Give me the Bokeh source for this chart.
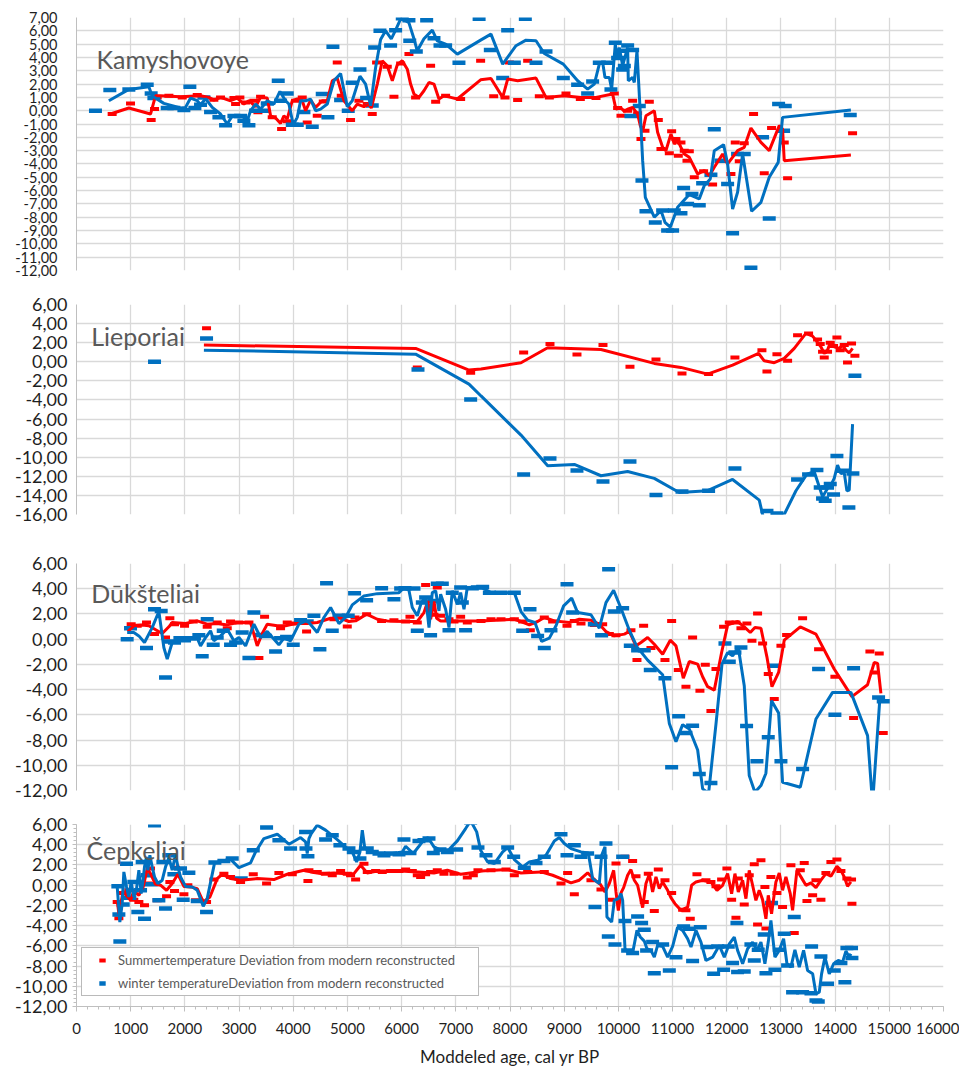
from bokeh.plotting import figure
from bokeh.models import Range1d, FixedTicker, CustomJSTickFormatter, Label, Legend, LegendItem
from bokeh.layouts import column
from bokeh.embed import file_html
from bokeh.resources import INLINE

# ---------------- Kamyshovoye ----------------
k_sum_age = [658, 997, 1378, 1440, 1489, 1705, 1951, 2228, 2535, 2658, 2905, 2936, 3015, 3120, 3274, 3348, 3397,
             3612, 3785, 3889, 4043, 4166, 4258, 4443, 4554, 4812, 4886, 5058, 5212, 5366, 5458, 5538, 5735, 5858,
             5982, 6135, 6258, 6535, 6628, 6812, 7089, 7458, 7699, 7908, 7988, 8141, 8326, 8541, 8726, 9033, 9298,
             9587, 9925, 9986, 10048, 10171, 10263, 10355, 10417, 10491, 10571, 10737, 10786, 10940, 10983, 11063,
             11106, 11155, 11216, 11266, 11309, 11401, 11573, 11739, 12077, 12157, 12231, 12323, 12495, 12692,
             12827, 13061, 13123, 14322]
k_sum_val = [-0.25, 0.55, -0.7, 0.12, 1.0, 1.12, 1.0, 1.18, 0.82, 1.0, 0.95, 0.5, 1.0, 0.62, 0.75, -0.12, 1.05,
             -0.5, -1.38, -0.8, 0.75, 1.0, -0.88, -0.38, 0.7, 3.62, 1.12, -0.7, 0.75, 0.5, -0.25, 3.62, 3.3, 1.05,
             3.55, 4.25, 1.0, 3.38, 0.68, 1.12, 0.88, 3.75, 1.08, 1.0, 3.62, 0.8, 3.75, 1.08, 1.0, 1.3, 0.88,
             0.95, 1.3, 0.2, -0.38, 0.0, 0.75, -0.2, -2.12, -1.5, 0.68, -0.7, -2.88, -3.2, -1.55, -2.12,
             -3.38, -2.38, -3.0, -3.75, -3.05, -5.0, -4.55, -5.55, -4.75, -2.38, -3.8, -2.45, -0.25, -4.7,
             -1.3, -2.38, -5.08, -1.7]
k_win_age = [350, 615, 966, 1305, 1378, 1428, 1674, 1797, 1982, 2092, 2185, 2289, 2351, 2474, 2628, 2751, 2905,
             3028, 3089, 3182, 3305, 3458, 3520, 3723, 3766, 3889, 3982, 4074, 4197, 4351, 4535, 4640, 4732, 4874,
             5015, 5089, 5231, 5354, 5458, 5502, 5600, 5797, 5889, 6012, 6135, 6150, 6271, 6462, 6597, 6708, 6812,
             7058, 7430, 7637, 7865, 7957, 8080, 8283, 8480, 8664, 8984, 9248, 9433, 9525, 9648, 9802, 9863, 9943,
             9986, 10048, 10079, 10110, 10171, 10232, 10263, 10386, 10435, 10509, 10681, 10817, 10909, 11001,
             11032, 11155, 11204, 11278, 11358, 11493, 11555, 11708, 11770, 11893, 12016, 12108, 12200, 12323,
             12446, 12661, 12784, 12957, 13049, 13080, 14279]
k_win_val = [0.0, 1.55, 1.6, 1.95, 1.3, 0.95, 0.2, 0.2, 0.05, 1.8, 0.2, 0.45, 1.0, -0.1, -0.5, -1.1, -0.4,
             -0.4, -0.75, -1.1, 0.0, 0.0, 0.55, 2.25, 0.75, 1.3, -1.05, -1.05, -0.1, -1.2, 1.25, -0.5, 4.8, 0.8,
             0.0, 2.1, 3.1, 0.95, 0.4, 4.75, 6.0, 4.9, 6.05, 6.95, 6.8, 5.25, 4.45, 6.8, 5.45, 4.9, 4.9,
             3.6, 6.9, 4.55, 2.45, 6.05, 3.6, 6.9, 3.6, 4.45, 2.45, 1.95, 1.3, 2.2, 3.6, 3.6, 1.6, 5.1,
             3.95, 4.5, 3.1, 3.35, 4.9, -0.4, 4.55, 0.35, -5.25, -7.55, -8.4, -7.5, -9.0, -9.0,
             -7.5, -7.7, -5.8, -7.0, -6.25, -7.1, -5.45, -4.8, -1.4, -3.75, -5.5, -9.2, -3.25, -3.25,
             -11.8, -2.0, -8.1, 0.5, -1.5, 0.35, -0.33]
k_sum_line_age = [627, 966, 1366, 1458, 1551, 1920, 2289, 2443, 2535, 2658, 2843, 2966, 3089, 3182, 3305, 3397,
                  3520, 3582, 3674, 3766, 3828, 3889, 3982, 4074, 4166, 4228, 4320, 4412, 4535, 4628, 4720, 4812,
                  4936, 5089, 5181, 5304, 5397, 5440, 5551, 5643, 5735, 5828, 5920, 6012, 6105, 6166, 6228, 6320,
                  6412, 6505, 6597, 6689, 6781, 6905, 7028, 7458, 7649, 7865, 7957, 8141, 8480, 8664, 8996, 9310,
                  9587, 9894, 9955, 10048, 10110, 10171, 10263, 10355, 10405, 10448, 10509, 10663, 10724, 10817,
                  10878, 10970, 11032, 11093, 11155, 11216, 11309, 11463, 11586, 11678, 11770, 11924, 12016,
                  12200, 12323, 12446, 12631, 12784, 12969, 13030, 13061, 14291]
k_sum_line_val = [-0.25, 0.2, -0.25, 1.12, 1.12, 1.05, 1.12, 1.0, 0.8, 1.0, 0.75, 0.95, 0.5, 0.75, 0.3, 1.0,
                  0.95, -0.38, -0.55, -0.95, -0.38, -0.62, 0.75, 0.88, 0.75, 0.0, 0.8, 0.25, 0.75, 0.75, 2.25, 2.45,
                  0.75, 0.0, 0.5, 0.3, 0.5, 0.2, 2.0, 3.75, 3.38, 2.25, 3.45, 3.75, 3.12, 2.0, 1.25, 1.0,
                  1.5, 2.12, 2.0, 0.88, 1.12, 1.0, 0.88, 2.32, 2.42, 1.0, 2.38, 2.25, 2.45, 1.0, 1.12, 1.0,
                  1.0, 1.25, 0.12, 0.2, -0.05, 0.12, 0.25, -0.25, -1.12, -1.55, -0.38, 0.0, -1.62, -2.75,
                  -3.0, -1.75, -2.5, -2.2, -2.75, -3.25, -3.5, -4.75, -4.5, -4.88, -4.25, -3.25, -4.0,
                  -3.0, -2.75, -1.3, -2.38, -3.0, -1.12, -1.38, -3.75, -3.32]
k_win_line_age = [597, 966, 1335, 1397, 1612, 1920, 2012, 2105, 2228, 2289, 2382, 2505, 2658, 2782, 2874, 3058,
                  3151, 3212, 3305, 3397, 3520, 3643, 3754, 3858, 3920, 4000, 4074, 4135, 4228, 4320, 4412, 4505,
                  4628, 4751, 4874, 4997, 5089, 5231, 5335, 5428, 5520, 5612, 5705, 5809, 5889, 5982, 6074, 6135,
                  6228, 6289, 6412, 6566, 6658, 6812, 7028, 7458, 7649, 7865, 8111, 8295, 8480, 8633, 8984, 9248,
                  9433, 9556, 9648, 9710, 9753, 9833, 9876, 9943, 9986, 10017, 10079, 10171, 10183, 10263, 10294,
                  10343, 10405, 10448, 10497, 10663, 10786, 10860, 10958, 11093, 11309, 11493, 11586, 11696,
                  11770, 11942, 12016, 12108, 12200, 12293, 12459, 12631, 12784, 12950, 13030, 14291]
k_win_line_val = [0.75, 1.6, 1.8, 1.1, 0.55, 0.2, 0.25, 0.95, 0.75, 0.45, 0.9, 0.25, -0.25, -1.0, -0.4, -0.4,
                  -0.75, 0.0, 0.5, 0.12, 0.75, 0.5, 1.45, 0.75, 0.5, -1.05, -0.5, 0.75, 0.75, 0.87, 0.0, 0.12,
                  0.5, 2.25, 2.8, 0.3, 0.75, 2.6, 2.0, 0.37, 3.25, 5.35, 6.0, 5.4, 6.05, 6.9, 6.75, 6.6,
                  5.4, 4.5, 5.4, 6.05, 5.25, 5.0, 4.25, 5.3, 5.75, 3.5, 4.88, 5.3, 5.25, 4.3, 3.5, 2.25,
                  1.62, 2.0, 3.5, 3.62, 2.5, 2.5, 1.62, 5.0, 3.88, 4.75, 3.38, 4.75, 2.25, 2.5, 2.12,
                  4.5, -0.25, -3.75, -6.5, -8.0, -7.5, -8.38, -8.75, -7.25, -6.3, -6.62, -5.62, -5.12,
                  -3.0, -2.55, -4.0, -7.38, -6.12, -3.25, -7.55, -6.88, -5.0, -3.88, -0.5, 0.05]

# ---------------- Lieporiai ----------------
l_sum_age = [2400, 6289, 7274, 8252, 8738, 9236, 9716, 10214, 10694, 11174, 11665, 12151, 12649, 12742, 12926,
             13123, 13307, 13510, 13676, 13725, 13768, 13799, 13860, 13910, 13971, 14033, 14094, 14168, 14229,
             14303, 14365]
l_sum_val = [3.5, -0.6, -1.15, 0.98, 1.85, 0.77, 1.75, -0.52, 0.24, -1.22, -1.29, 0.45, 1.22, -1.01, 0.8,
             0.1, 2.79, 2.97, 2.34, 1.85, 1.05, 0.45, 1.05, 1.99, 1.64, 2.55, 1.22, 1.75, -0.07, 1.92, 0.63]
l_win_age = [1440, 2400, 6302, 7274, 8252, 8738, 9236, 9716, 10214, 10694, 11174, 11665, 12151, 12742, 12926,
             13307, 13510, 13664, 13725, 13768, 13817, 13860, 13910, 13971, 14033, 14137, 14254, 14328, 14365]
l_win_val = [0.0, 2.44, -0.8, -3.95, -11.8, -10.13, -11.38, -12.53, -10.44, -13.97, -13.58, -13.51, -11.17,
             -15.64, -15.89, -12.33, -11.8, -11.35, -13.16, -14.32, -14.56, -13.16, -12.81, -13.9, -9.88,
             -11.42, -15.26, -11.7, -1.47]
l_sum_line_age = [2351, 6258, 7243, 7465, 8203, 8695, 9679, 10663, 11155, 11647, 12108, 12588, 12692, 12877,
                  13061, 13246, 13461, 13584, 13645, 13737, 13799, 13860, 13910, 13983, 14075, 14137, 14199,
                  14260, 14322]
l_sum_line_val = [1.75, 1.4, -0.87, -0.75, -0.1, 1.47, 1.29, -0.17, -0.59, -1.29, -0.35, 0.87, 0.1, -0.1,
                  0.35, 1.4, 2.97, 2.69, 2.27, 1.57, 0.87, 1.22, 1.99, 1.57, 1.4, 1.75, 1.22, 0.94, 1.4]
l_win_line_age = [2351, 6258, 7243, 7465, 8203, 8695, 9187, 9679, 10171, 10663, 11124, 11647, 12108, 12600,
                  12692, 12877, 13061, 13277, 13480, 13615, 13707, 13768, 13860, 13922, 13983, 14045, 14106,
                  14168, 14217, 14260, 14322]
l_win_line_val = [1.22, 0.8, -2.34, -3.58, -7.68, -10.89, -10.75, -11.94, -11.49, -12.22, -13.69, -13.51,
                  -12.33, -14.49, -16.76, -15.89, -15.99, -13.51, -11.77, -11.52, -13.09, -14.14, -13.27,
                  -12.92, -12.22, -10.82, -11.7, -11.63, -13.51, -13.44, -6.53]

# ---------------- Dūkšteliai ----------------
d_sum_age = [1009, 1120, 1292, 1440, 1643, 1723, 1809, 1994, 2154, 2412, 2597, 2782, 2843, 2997, 3182, 3366,
             3471, 3766, 3889, 3982, 4246, 4751, 4997, 5139, 5354, 5631, 5858, 6074, 6154, 6289, 6443, 6535,
             6597, 6658, 6720, 6874, 6966, 7089, 7212, 7465, 7649, 7834, 8080, 8234, 8375, 8633, 8787, 9052,
             9187, 9310, 9556, 9710, 9833, 9955, 10232, 10343, 10466, 10601, 10860, 10983, 11106, 11247, 11370,
             11505, 11604, 11708, 11801, 11942, 12047, 12170, 12262, 12372, 12465, 12569, 12662, 12766, 12877,
             13000, 13105, 13400, 13695, 13996, 14341, 14642, 14722, 14814, 14888]
d_sum_val = [1.19, 1.06, 1.32, 0.4, 0.13, 1.66, 1.19, 1.06, 1.4, 0.98, 1.32, 0.87, 1.4, 1.32, 1.32, -1.5,
             1.77, 0.87, 1.32, 1.24, 0.61, 1.58, 1.0, 1.72, 1.98, 1.45, 1.5, 1.4, 1.77, 1.32, 4.3, 2.37,
             1.93, 4.09, 1.85, 1.58, 1.4, 1.77, 1.32, 1.45, 1.58, 1.58, 1.58, 1.4, 0.71, 1.72, 1.4, 1.06,
             1.45, 1.24, 1.13, 1.19, 0.4, 0.32, 0.71, -1.66, 1.06, -0.71, -1.66, 1.45, -2.45, -3.77, 0.13,
             -4.09, -2.03, -5.7, -2.37, 0.98, 1.32, 1.32, 0.87, 1.24, -0.13, 2.03, -0.34, -2.77, -4.75,
             -0.53, 0.34, 1.66, -0.79, -2.98, -6.25, -0.98, -2.64, -1.13, -7.44]
d_win_age = [935, 997, 1292, 1440, 1563, 1643, 1735, 1809, 1908, 1994, 2092, 2178, 2258, 2320, 2412, 2523,
             2597, 2708, 2843, 2936, 3058, 3182, 3274, 3397, 3489, 3674, 3766, 3877, 4000, 4135, 4258, 4381,
             4492, 4615, 4720, 4843, 5015, 5132, 5354, 5631, 5858, 5982, 6062, 6228, 6289, 6382, 6443, 6535,
             6597, 6658, 6751, 6874, 6935, 7089, 7120, 7181, 7305, 7397, 7496, 7619, 7834, 8080, 8234, 8369,
             8510, 8633, 8756, 9052, 9156, 9556, 9691, 9820, 9925, 10079, 10220, 10355, 10478, 10589, 10860,
             10983, 11112, 11247, 11370, 11493, 11708, 11967, 12047, 12151, 12262, 12366, 12557, 12766, 12864,
             13000, 13400, 13695, 13996, 14341, 14802, 14888]
d_win_val = [0.0, 0.87, -0.71, 2.37, 2.24, -3.03, -0.18, -0.26, 0.08, -0.08, 0.08, 0.08, 0.32, -1.35, 1.58,
             -0.45, 0.13, 0.66, -0.45, -0.26, 0.53, -1.5, 2.11, 0.34, 0.26, -0.98, 0.08, 0.18, -0.45, 1.5,
             1.4, 1.85, -0.79, 4.43, 0.66, 1.85, 1.85, 3.64, 3.09, 4.04, 3.17, 4.01, 4.04, 4.01, 0.66, 2.9,
             3.3, 0.32, 3.03, 4.4, 4.4, 0.71, 3.69, 4.09, 2.9, 0.71, 4.04, 4.09, 4.14, 3.69, 3.69, 3.69, 0.66,
             2.37, 0.26, -0.71, 0.71, 4.35, 2.11, 1.19, 0.32, 5.54, 2.19, 2.45, -0.53, -0.87, -0.87, -2.45,
             -3.09, -10.16, -6.12, -7.44, -6.86, -10.69, -11.4, -0.34, -1.79, -1.06, -0.66, -6.89, -9.68,
             -7.78, -2.11, -9.68, -10.29, -2.37, -5.99, -2.3, -4.62, -4.93]
d_sum_line_age = [948, 1058, 1212, 1335, 1477, 1582, 1705, 1766, 2012, 2228, 2412, 2597, 2782, 2966, 3212,
                  3335, 3428, 3520, 3705, 3858, 4043, 4258, 4443, 4689, 4874, 5028, 5151, 5354, 5551, 5735,
                  6043, 6289, 6412, 6486, 6535, 6597, 6646, 6720, 7212, 7458, 8080, 8203, 8357, 8510, 8633,
                  8818, 9095, 9279, 9494, 9648, 9771, 9925, 10110, 10202, 10325, 10417, 10540, 10663, 10817,
                  10958, 11063, 11198, 11309, 11463, 11555, 11647, 11770, 11905, 12016, 12200, 12323, 12434,
                  12520, 12631, 12741, 12834, 12957, 13061, 13357, 13646, 13983, 14310, 14599, 14722, 14784,
                  14845]
d_sum_line_val = [0.61, 1.06, 1.13, 1.06, 0.71, 0.45, 0.98, 1.32, 1.24, 1.45, 1.19, 1.24, 1.13, 1.32, 1.32,
                  -0.53, 0.45, 1.19, 1.06, 1.06, 1.24, 1.24, 1.32, 1.66, 1.66, 1.4, 1.45, 1.98, 1.58, 1.45,
                  1.4, 1.4, 2.11, 3.03, 1.58, 2.98, 1.66, 1.45, 1.45, 1.45, 1.58, 1.4, 1.13, 1.4, 1.72,
                  1.45, 1.32, 1.58, 1.5, 1.19, 0.61, 0.26, 0.4, 0.61, -0.53, -0.26, 0.13, -0.4, -1.19,
                  -0.08, -0.53, -3.09, -1.77, -1.98, -2.98, -3.77, -4.04, -1.06, 1.13, 1.4, 0.98, 0.53,
                  0.92, 0.87, -1.4, -3.77, -2.64, -0.08, 0.98, 0.4, -2.37, -4.56, -3.61, -1.85, -1.93,
                  -4.3]
d_win_line_age = [935, 1058, 1151, 1255, 1397, 1520, 1612, 1674, 1766, 1889, 2012, 2135, 2228, 2289, 2382,
                  2474, 2535, 2658, 2782, 2905, 2997, 3120, 3274, 3397, 3520, 3735, 3828, 3951, 4104, 4228,
                  4289, 4443, 4566, 4689, 4843, 4966, 5089, 5304, 5551, 5951, 6043, 6135, 6197, 6289, 6363,
                  6443, 6505, 6566, 6628, 6689, 6720, 6812, 6874, 6935, 7028, 7089, 7151, 7212, 7458, 7649,
                  8080, 8203, 8326, 8461, 8584, 8726, 8849, 8990, 9138, 9248, 9494, 9648, 9771, 9912, 10048,
                  10202, 10343, 10540, 10817, 10940, 11063, 11186, 11309, 11463, 11555, 11665, 11801, 11912,
                  12016, 12108, 12213, 12323, 12415, 12520, 12631, 12723, 12827, 12957, 13030, 13357, 13646,
                  13953, 14291, 14599, 14691, 14827]
d_win_line_val = [0.53, 0.53, 0.26, -0.26, 0.92, 2.19, -0.66, -1.58, -0.26, -0.13, 0.0, 0.08, 0.08, -0.53,
                  0.13, 0.66, -0.13, 0.26, 0.79, -0.13, 0.13, -0.53, 1.19, 0.13, 0.61, -0.45, 0.08, -0.13,
                  1.19, 1.45, 1.32, 0.53, 1.72, 2.51, 1.24, 1.72, 2.72, 3.43, 3.61, 3.69, 4.09, 3.88, 2.51,
                  1.85, 2.9, 3.35, 0.92, 3.69, 3.83, 2.24, 3.56, 2.37, 0.92, 3.83, 2.77, 3.69, 2.37, 4.09,
                  4.14, 3.69, 3.69, 2.19, 1.5, 1.32, -0.18, 0.08, 1.06, 2.64, 3.25, 2.11, 1.93, 0.87, 2.9,
                  3.88, 2.45, 0.71, -0.61, -1.66, -2.82, -6.68, -8.13, -6.78, -7.12, -8.79, -11.87, -12.22,
                  -6.73, -1.98, -1.06, -1.32, -0.66, -3.69, -10.82, -12.14, -11.61, -10.63, -4.88, -5.86,
                  -11.35, -11.74, -6.33, -4.22, -4.22, -7.65, -13.06, -4.62]

# ---------------- Čepkeliai ----------------
c_sum_age = [751, 782, 862, 966, 1058, 1151, 1255, 1317, 1366, 1489, 1662, 1723, 1809, 1828, 1982, 2055, 2197,
             2400, 2535, 2720, 2843, 3028, 3262, 3508, 3735, 3982, 4271, 4289, 4443, 4597, 4720, 4874, 4997,
             5058, 5151, 5305, 5366, 5520, 5643, 5797, 5951, 6074, 6197, 6289, 6351, 6443, 6535, 6658, 6781,
             6966, 7212, 7323, 7409, 7649, 7926, 8080, 8326, 8633, 8941, 9064, 9187, 9494, 9679, 9851, 9956,
             10122, 10263, 10325, 10478, 10552, 10663, 10737, 10860, 10983, 11186, 11247, 11327, 11450, 11616,
             11708, 11801, 11905, 12003, 12090, 12170, 12213, 12323, 12415, 12508, 12569, 12631, 12704, 12723,
             12815, 12926, 13030, 13184, 13246, 13357, 13430, 13480, 13585, 13646, 13738, 13830, 13922, 14033,
             14107, 14217, 14303, 14310]
c_sum_val = [-1.66, -3.26, -0.78, -0.51, -1.43, -1.66, -1.99, 0.16, 1.64, -1.5, -1.1, 0.32, -0.57, 1.73, -0.91,
             -0.01, -1.5, -1.66, 0.55, 1.14, 0.82, 0.32, 1.08, 0.16, 1.21, 1.08, 0.42, 1.48, 1.31, 1.14, 0.98,
             1.4, 1.14, 0.98, 0.55, 2.13, 1.31, 1.4, 1.31, 1.4, 1.4, 1.54, 1.4, 0.98, 0.82, 1.08, 1.31, 1.48,
             1.14, 1.14, 0.75, 0.98, 1.48, 1.48, 1.54, 0.98, 1.31, 1.31, 0.16, 1.21, -0.9, 0.49, -0.44, -1.43,
             2.14, 2.8, 2.4, 0.88, -1.66, 1.14, -2.56, 1.54, 0.49, -0.77, -2.43, -2.49, -3.32, 1.08, 0.49,
             0.32, -0.11, 0.55, 1.64, -1.43, -3.22, 0.65, -1.9, 0.97, 2.07, -3.88, 2.47, -0.18, -4.29, 0.82,
             -0.77, -2.16, 1.97, -4.74, 1.48, 2.2, -1.56, -1.0, 0.49, -1.43, 1.21, 2.3, 2.53, 1.4, 0.65, 0.55,
             -1.83]
c_win_age = [763, 782, 800, 862, 923, 985, 1058, 1132, 1182, 1212, 1255, 1305, 1378, 1440, 1520, 1594, 1643,
             1705, 1797, 1920, 1969, 2074, 2228, 2400, 2554, 2720, 2874, 3040, 3262, 3508, 3735, 3951, 4185,
             4228, 4235, 4271, 4443, 4597, 4720, 4861, 5028, 5108, 5231, 5305, 5366, 5458, 5582, 5674, 5797,
             5951, 6043, 6154, 6320, 6412, 6505, 6585, 6708, 6843, 7015, 7274, 7409, 7557, 7711, 7957, 8068,
             8264, 8480, 8633, 8941, 9052, 9187, 9310, 9433, 9568, 9679, 9771, 9814, 9937, 10079, 10122, 10171,
             10263, 10355, 10429, 10478, 10521, 10632, 10663, 10817, 10940, 11063, 11204, 11309, 11370, 11512,
             11635, 11758, 11832, 11942, 12028, 12108, 12188, 12200, 12323, 12446, 12508, 12581, 12692, 12723,
             12827, 12889, 12969, 13061, 13123, 13215, 13246, 13400, 13554, 13566, 13646, 13689, 13738, 13861,
             13984, 14107, 14180, 14217, 14303, 14310]
c_win_val = [-0.1, -2.89, -5.57, -1.9, 2.13, -1.24, 0.32, -2.65, -0.5, 2.3, -3.31, 0.98, 0.09, 5.93, -1.5,
             2.3, -2.32, 2.96, 1.08, 1.64, -1.43, 1.24, -1.56, -2.65, 2.23, 2.4, 2.63, 0.65, 3.46, 5.7, 4.45,
             3.62, 6.69, 5.27, 3.62, 2.86, 6.5, 4.51, 4.94, 3.95, 3.62, 3.29, 2.63, 6.26, 3.62, 3.29, 3.13,
             2.96, 3.13, 3.06, 4.51, 3.19, 4.38, 4.45, 4.61, 3.19, 3.52, 3.29, 3.52, 6.17, 3.72, 2.96, 2.3,
             3.72, 2.8, 1.73, 2.2, 2.8, 5.04, 2.96, 3.95, 2.8, 3.13, -2.17, 2.8, 4.12, -5.07, -5.86, 2.8,
             -3.55, -6.45, -6.71, -3.09, -3.75, -4.41, -6.45, -5.63, -8.7, -5.86, -8.44, -7.12, -4.08, -4.31,
             -7.51, -4.15, -6.12, -8.77, -6.06, -8.37, -6.06, -7.71, -3.75, -8.6, -8.54, -5.86, -7.45, -6.39,
             -4.87, -8.7, -1.77, -8.37, -6.39, -4.81, -7.94, -10.59, -3.16, -10.59, -10.69, -6.06, -11.41,
             -11.51, -7.05, -9.76, -8.44, -7.71, -9.59, -6.22, -6.22, -7.21]
c_sum_line_age = [751, 782, 812, 862, 935, 997, 1058, 1151, 1231, 1305, 1366, 1458, 1551, 1662, 1766, 1871,
                  1982, 2105, 2228, 2339, 2462, 2597, 2689, 2843, 3028, 3335, 3643, 3889, 4197, 4320, 4505,
                  4751, 4997, 5120, 5243, 5366, 5551, 5982, 6289, 6597, 6843, 7089, 7397, 7465, 7957, 8203,
                  8572, 8787, 8941, 9126, 9279, 9433, 9587, 9667, 9753, 9833, 9913, 9956, 9999, 10048, 10097,
                  10171, 10232, 10294, 10355, 10448, 10509, 10571, 10632, 10694, 10755, 10817, 10909, 10970,
                  11044, 11155, 11278, 11352, 11432, 11555, 11708, 11819, 11924, 12016, 12090, 12151, 12213,
                  12293, 12354, 12415, 12477, 12538, 12600, 12661, 12723, 12766, 12827, 12907, 12969, 13030,
                  13092, 13172, 13215, 13295, 13369, 13461, 13554, 13646, 13738, 13830, 13922, 14033, 14107,
                  14168, 14229, 14291]
c_sum_line_val = [-1.5, -2.82, -2.0, -0.58, -1.1, -1.5, -0.58, -1.0, -0.17, 1.64, 1.14, 0.08, 0.0, -0.51,
                  0.16, 1.08, -0.12, -0.17, -0.34, -1.66, -1.17, 0.65, 1.08, 0.65, 0.49, 0.65, 0.55, 1.08,
                  1.48, 1.31, 1.14, 1.21, 1.14, 1.14, 1.97, 1.21, 1.4, 1.4, 1.31, 1.21, 1.48, 1.08, 1.31,
                  1.4, 1.54, 1.21, 1.31, 0.98, 0.65, 0.22, 0.49, 1.21, 0.41, 0.09, -0.67, 0.16, 1.47, -0.67,
                  -2.5, -0.77, -0.24, 0.98, 1.54, 0.49, -0.01, -2.22, 0.16, 1.08, -0.67, 0.82, -0.34, 0.32,
                  -0.51, -1.24, -1.83, -2.49, -2.17, -0.01, 0.32, 0.49, 0.32, -0.51, -0.01, 1.14, -0.84,
                  1.14, -0.67, 0.49, -1.33, 1.47, -0.01, -1.5, -0.51, -1.43, -3.32, -1.0, -2.83, 0.32, 1.21,
                  -0.51, 0.82, -0.84, -2.49, 1.47, 0.82, -0.01, 0.22, -0.24, 0.49, 1.14, 0.88, 1.87, 1.47,
                  0.82, -0.11, 0.32]
c_win_line_age = [751, 782, 800, 843, 874, 923, 966, 1009, 1058, 1108, 1151, 1194, 1231, 1255, 1292, 1317,
                  1354, 1397, 1440, 1502, 1582, 1643, 1705, 1766, 1828, 1871, 1920, 2012, 2135, 2228, 2339,
                  2412, 2548, 2720, 2831, 2997, 3212, 3305, 3458, 3705, 3920, 4135, 4228, 4258, 4289, 4332,
                  4443, 4597, 4812, 4997, 5089, 5169, 5231, 5274, 5317, 5366, 5489, 5674, 5828, 6012, 6074,
                  6215, 6320, 6382, 6486, 6597, 6720, 6874, 7028, 7181, 7274, 7385, 7458, 7588, 7711, 7865,
                  7957, 8080, 8234, 8357, 8510, 8664, 8818, 8910, 9002, 9126, 9310, 9445, 9525, 9648, 9691,
                  9753, 9789, 9876, 9925, 9999, 10048, 10079, 10122, 10171, 10263, 10343, 10405, 10478, 10527,
                  10601, 10663, 10724, 10817, 10909, 11001, 11093, 11186, 11278, 11340, 11432, 11524, 11616,
                  11739, 11862, 11955, 12047, 12139, 12200, 12293, 12385, 12477, 12557, 12631, 12704, 12766,
                  12815, 12889, 12969, 13049, 13111, 13184, 13258, 13338, 13418, 13492, 13585, 13646, 13707,
                  13750, 13812, 13892, 13972, 14058, 14137, 14199, 14260, 14291]
c_win_line_val = [-0.17, -2.32, -3.65, -1.83, 1.31, -0.17, -1.17, 0.32, -1.17, -0.35, 1.48, -0.84, 0.65, 1.81,
                  2.79, 1.48, 2.96, 1.81, 0.82, 0.16, 0.49, 1.81, 2.73, 1.48, 3.06, 1.81, 0.82, -0.12, -0.17,
                  -0.51, -2.09, -1.33, 2.2, 2.4, 2.63, 1.74, 2.2, 3.29, 4.61, 5.04, 4.05, 4.71, 4.28, 3.13,
                  4.61, 5.1, 5.93, 5.44, 4.51, 3.62, 3.29, 2.3, 3.29, 5.44, 3.79, 3.46, 3.29, 2.96, 3.13,
                  3.29, 3.85, 3.13, 3.85, 4.28, 4.71, 3.79, 3.46, 3.52, 4.38, 5.6, 6.36, 5.27, 3.46, 2.3,
                  2.13, 3.29, 3.72, 2.53, 1.8, 2.3, 2.46, 2.96, 4.38, 4.71, 4.12, 3.62, 3.29, 3.19, 0.65,
                  0.16, 2.96, 3.79, -3.15, -3.65, -1.5, -1.33, -0.84, -1.5, -6.29, -6.62, -6.71, -4.47,
                  -5.13, -5.53, -6.29, -6.45, -7.12, -5.96, -6.06, -7.12, -6.06, -4.15, -4.48, -5.3, -6.12,
                  -4.48, -5.63, -7.45, -7.12, -5.96, -7.12, -5.8, -5.13, -6.45, -7.77, -6.29, -5.63, -6.45,
                  -5.63, -7.77, -5.63, -3.48, -7.12, -6.45, -5.3, -7.77, -8.1, -6.39, -8.1, -6.45, -8.44,
                  -8.77, -10.75, -10.59, -8.77, -7.12, -8.77, -7.77, -7.45, -7.61, -6.52, -7.12, -6.78]

site_names = ["Kamyshovoye", "Lieporiai", "Dūkšteliai", "Čepkeliai"]
y_limits = [(-12, 7), (-16, 6), (-12, 6), (-12, 6)]
y_steps = [1, 2, 2, 2]
x_ticks = list(range(0, 16001, 1000))
legend_labels = ["Summertemperature Deviation from modern reconstructed",
                 "winter temperatureDeviation from modern reconstructed"]

RED = "#ff0000"
BLUE = "#0070c0"
GRID = "#d9d9d9"
FONT = "Lato"

panels = [
    (k_sum_age, k_sum_val, k_win_age, k_win_val, k_sum_line_age, k_sum_line_val, k_win_line_age, k_win_line_val),
    (l_sum_age, l_sum_val, l_win_age, l_win_val, l_sum_line_age, l_sum_line_val, l_win_line_age, l_win_line_val),
    (d_sum_age, d_sum_val, d_win_age, d_win_val, d_sum_line_age, d_sum_line_val, d_win_line_age, d_win_line_val),
    (c_sum_age, c_sum_val, c_win_age, c_win_val, c_sum_line_age, c_sum_line_val, c_win_line_age, c_win_line_val),
]
frame_heights = [253, 210, 227, 182]
border_top = [17, 17, 25, 17]
border_bottom = [17, 24, 17, 50]
tick_font = ["14.5px", "18px", "18px", "18px"]
title_pos = [(369, 3.875), (271, 2.69), (271, 3.64), (185, 3.52)]

fmt_y = CustomJSTickFormatter(code="return tick.toFixed(2).replace('.', ',');")
figs = []
for i, (sa, sv, wa, wv, sla, slv, wla, wlv) in enumerate(panels):
    ymin, ymax = y_limits[i]
    yt = list(range(ymin, ymax + 1, y_steps[i]))
    p = figure(frame_width=867, frame_height=frame_heights[i],
               x_range=Range1d(0, 16000), y_range=Range1d(ymin, ymax),
               output_backend="svg", toolbar_location=None,
               min_border_left=76, min_border_right=16,
               min_border_top=border_top[i], min_border_bottom=border_bottom[i])
    p.outline_line_color = None
    p.background_fill_color = "white"
    p.xgrid.ticker = FixedTicker(ticks=x_ticks)
    p.ygrid.ticker = FixedTicker(ticks=yt)
    p.xgrid.grid_line_color = GRID
    p.ygrid.grid_line_color = GRID
    p.xgrid.grid_line_width = 1.3
    p.ygrid.grid_line_width = 1.3

    last = (i == 3)
    if last:
        p.yaxis.ticker = FixedTicker(ticks=yt, minor_ticks=[ymin + 0.4 * k for k in range(int((ymax - ymin) / 0.4) + 1)])
    else:
        p.yaxis.ticker = FixedTicker(ticks=yt)
    p.yaxis.formatter = fmt_y
    p.yaxis.axis_line_color = "#bfbfbf"
    p.yaxis.major_tick_line_color = "#bfbfbf"
    p.yaxis.minor_tick_line_color = "#bfbfbf"
    p.yaxis.major_tick_in = 0
    p.yaxis.minor_tick_in = 0
    p.yaxis.major_tick_out = 4 if last else 0
    p.yaxis.minor_tick_out = 3 if last else 0
    p.yaxis.major_label_standoff = 5 if last else (19 if i == 0 else 9)
    p.yaxis.major_label_text_font = FONT
    p.yaxis.major_label_text_font_size = tick_font[i]
    p.yaxis.major_label_text_color = "#1f1f1f"

    if last:
        p.xaxis.ticker = FixedTicker(ticks=x_ticks, minor_ticks=list(range(0, 16001, 200)))
        p.xaxis.formatter = CustomJSTickFormatter(code="return tick.toFixed(0);")
        p.xaxis.axis_line_color = "#bfbfbf"
        p.xaxis.major_tick_line_color = "#bfbfbf"
        p.xaxis.minor_tick_line_color = "#bfbfbf"
        p.xaxis.major_tick_in = 0
        p.xaxis.minor_tick_in = 0
        p.xaxis.major_tick_out = 5
        p.xaxis.minor_tick_out = 3
        p.xaxis.major_label_standoff = 11
        p.xaxis.major_label_text_font = FONT
        p.xaxis.major_label_text_font_size = "15px"
        p.xaxis.major_label_text_color = "#1f1f1f"
        p.xaxis.axis_label = "Moddeled age, cal yr BP"
        p.xaxis.axis_label_text_font = FONT
        p.xaxis.axis_label_text_font_size = "17px"
        p.xaxis.axis_label_text_font_style = "normal"
        p.xaxis.axis_label_text_color = "#1f1f1f"
        p.xaxis.axis_label_standoff = 9
    else:
        p.xaxis.visible = False

    r_s = p.scatter(sa, sv, marker="dash", size=9, line_color=RED, line_width=4)
    r_w = p.scatter(wa, wv, marker="dash", size=13, line_color=BLUE, line_width=4.5)
    p.line(sla, slv, line_color=RED, line_width=3)
    p.line(wla, wlv, line_color=BLUE, line_width=3)

    tx, ty = title_pos[i]
    p.add_layout(Label(x=tx, y=ty, text=site_names[i], text_font=FONT, text_font_size="25px",
                       text_color="#595959", text_baseline="alphabetic"))

    if last:
        legend = Legend(items=[LegendItem(label=legend_labels[0], renderers=[r_s]),
                               LegendItem(label=legend_labels[1], renderers=[r_w])],
                        location=(5, 10), margin=0, padding=4, spacing=7,
                        glyph_width=32, glyph_height=16, label_height=16, label_standoff=0,
                        label_width=356, label_text_font=FONT, label_text_font_size="13px",
                        label_text_color="#595959", border_line_color="#767676", border_line_width=1.3,
                        background_fill_color="white", background_fill_alpha=1.0)
        p.add_layout(legend)
    figs.append(p)

layout = column(*figs)
open("out.html", "w").write(file_html(layout, INLINE))
